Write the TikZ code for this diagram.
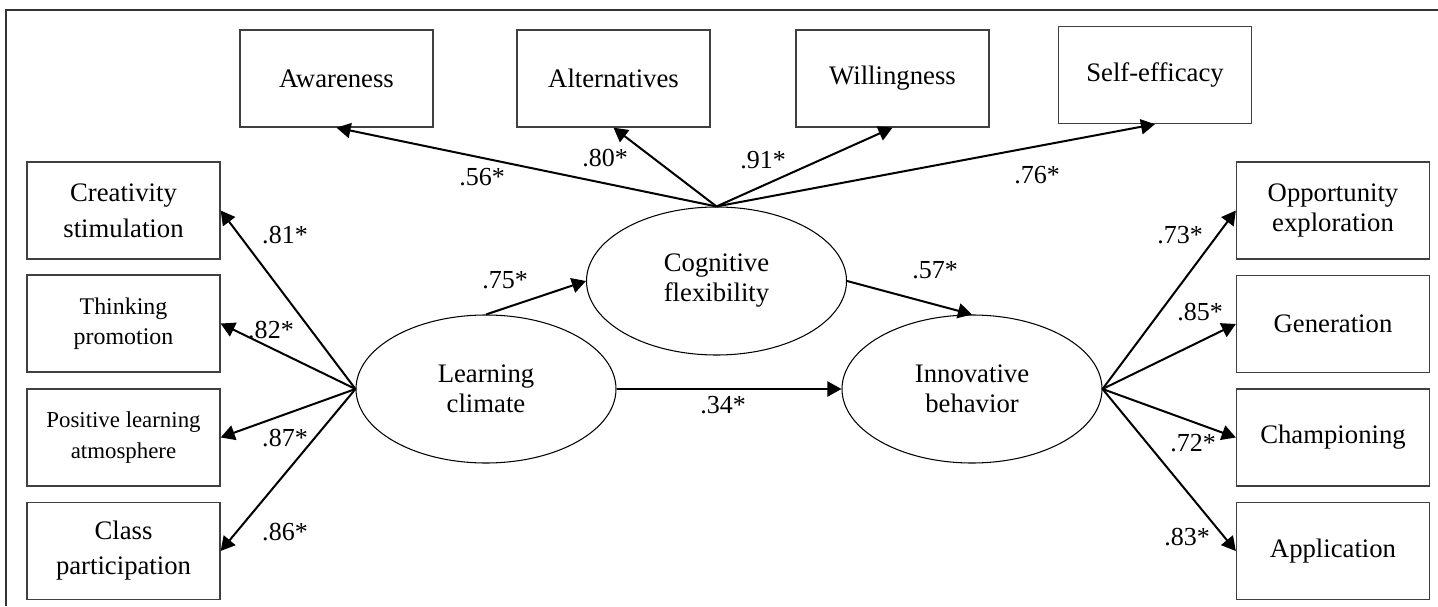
\documentclass[tikz,border=0pt]{standalone}
\usepackage{fontspec}
\setmainfont{Liberation Serif}
\usetikzlibrary{arrows.meta,shapes.geometric}

\begin{document}
\begin{tikzpicture}[x=1cm,y=1cm,>={Triangle[length=4pt,width=4.3pt]},
    ind/.style={draw=black!75,line width=0.38pt,minimum width=1.93cm,
        minimum height=0.97cm,inner sep=0pt,align=center,
        font=\fontsize{7.6}{8.54}\selectfont},
    lat/.style={draw,ellipse,line width=0.3pt,minimum width=2.6cm,
        minimum height=1.48cm,inner sep=0pt,align=center,
        font=\fontsize{7.6}{8.54}\selectfont},
    load/.style={->,line width=0.57pt},
    coef/.style={inner sep=0pt,font=\fontsize{7.4}{8.5}\selectfont}]
    \useasboundingbox (0,0) rectangle (14.38,6.06);

    % frame
    \draw[black!80,line width=0.45pt] (0.06,0) -- (0.06,5.96) -- (14.38,5.96);

    % indicators of cognitive flexibility
    \node[ind] (awar) at (3.365,5.275) {Awareness};
    \node[ind] (alter) at (6.135,5.275) {Alternatives};
    \node[ind] (willing) at (8.925,5.275) {Willingness};
    \node[ind] (selfeff) at (11.55,5.31) {Self-efficacy};

    % indicators of learning climate
    \node[ind,font=\fontsize{7.6}{10.2}\selectfont] (creat) at (1.235,3.955)
        {Creativity\\stimulation};
    \node[ind,font=\fontsize{6.8}{8.54}\selectfont] (think) at (1.235,2.825)
        {Thinking\\promotion};
    \node[ind,font=\fontsize{6.5}{8.8}\selectfont] (posit) at (1.235,1.685)
        {Positive learning\\atmosphere};
    \node[ind,font=\fontsize{7.6}{10}\selectfont] (class) at (1.235,0.55)
        {Class\\participation};

    % indicators of innovative behavior
    \node[ind] (oppor) at (13.33,3.955) {Opportunity\\exploration};
    \node[ind] (gener) at (13.33,2.82) {Generation};
    \node[ind] (champ) at (13.33,1.685) {Championing};
    \node[ind] (appl) at (13.33,0.55) {Application};

    % latent variables
    \node[lat] (lc) at (4.86,2.17) {Learning\\climate};
    \node[lat] (cf) at (7.165,3.25) {Cognitive\\flexibility};
    \node[lat] (ib) at (9.72,2.17) {Innovative\\behavior};

    % loadings
    \foreach \b in {awar,alter,willing,selfeff}
        \draw[load] (cf.north) -- (\b.south);
    \foreach \b in {creat,think,posit,class}
        \draw[load] (lc.west) -- (\b.east);
    \foreach \b in {oppor,gener,champ,appl}
        \draw[load] (ib.east) -- (\b.west);

    % structural paths
    \draw[load] (lc.north) -- (cf.west);
    \draw[load] (cf.east) -- (ib.north);
    \draw[load] (lc.east) -- (ib.west);

    % standardized coefficients
    \foreach \x/\y/\v in {
        4.82/4.29/56,6.05/4.48/80,7.63/4.46/91,10.37/4.31/76,
        2.85/3.71/81,2.71/2.76/82,2.85/1.68/87,2.85/0.74/86,
        11.80/3.71/73,12.00/2.94/85,11.93/1.63/72,11.87/0.69/83,
        5.05/3.26/75,9.35/3.36/57,7.23/2.01/34}
        \node[coef] (k\v) at (\x,\y) {.\v*};
\end{tikzpicture}
\end{document}
